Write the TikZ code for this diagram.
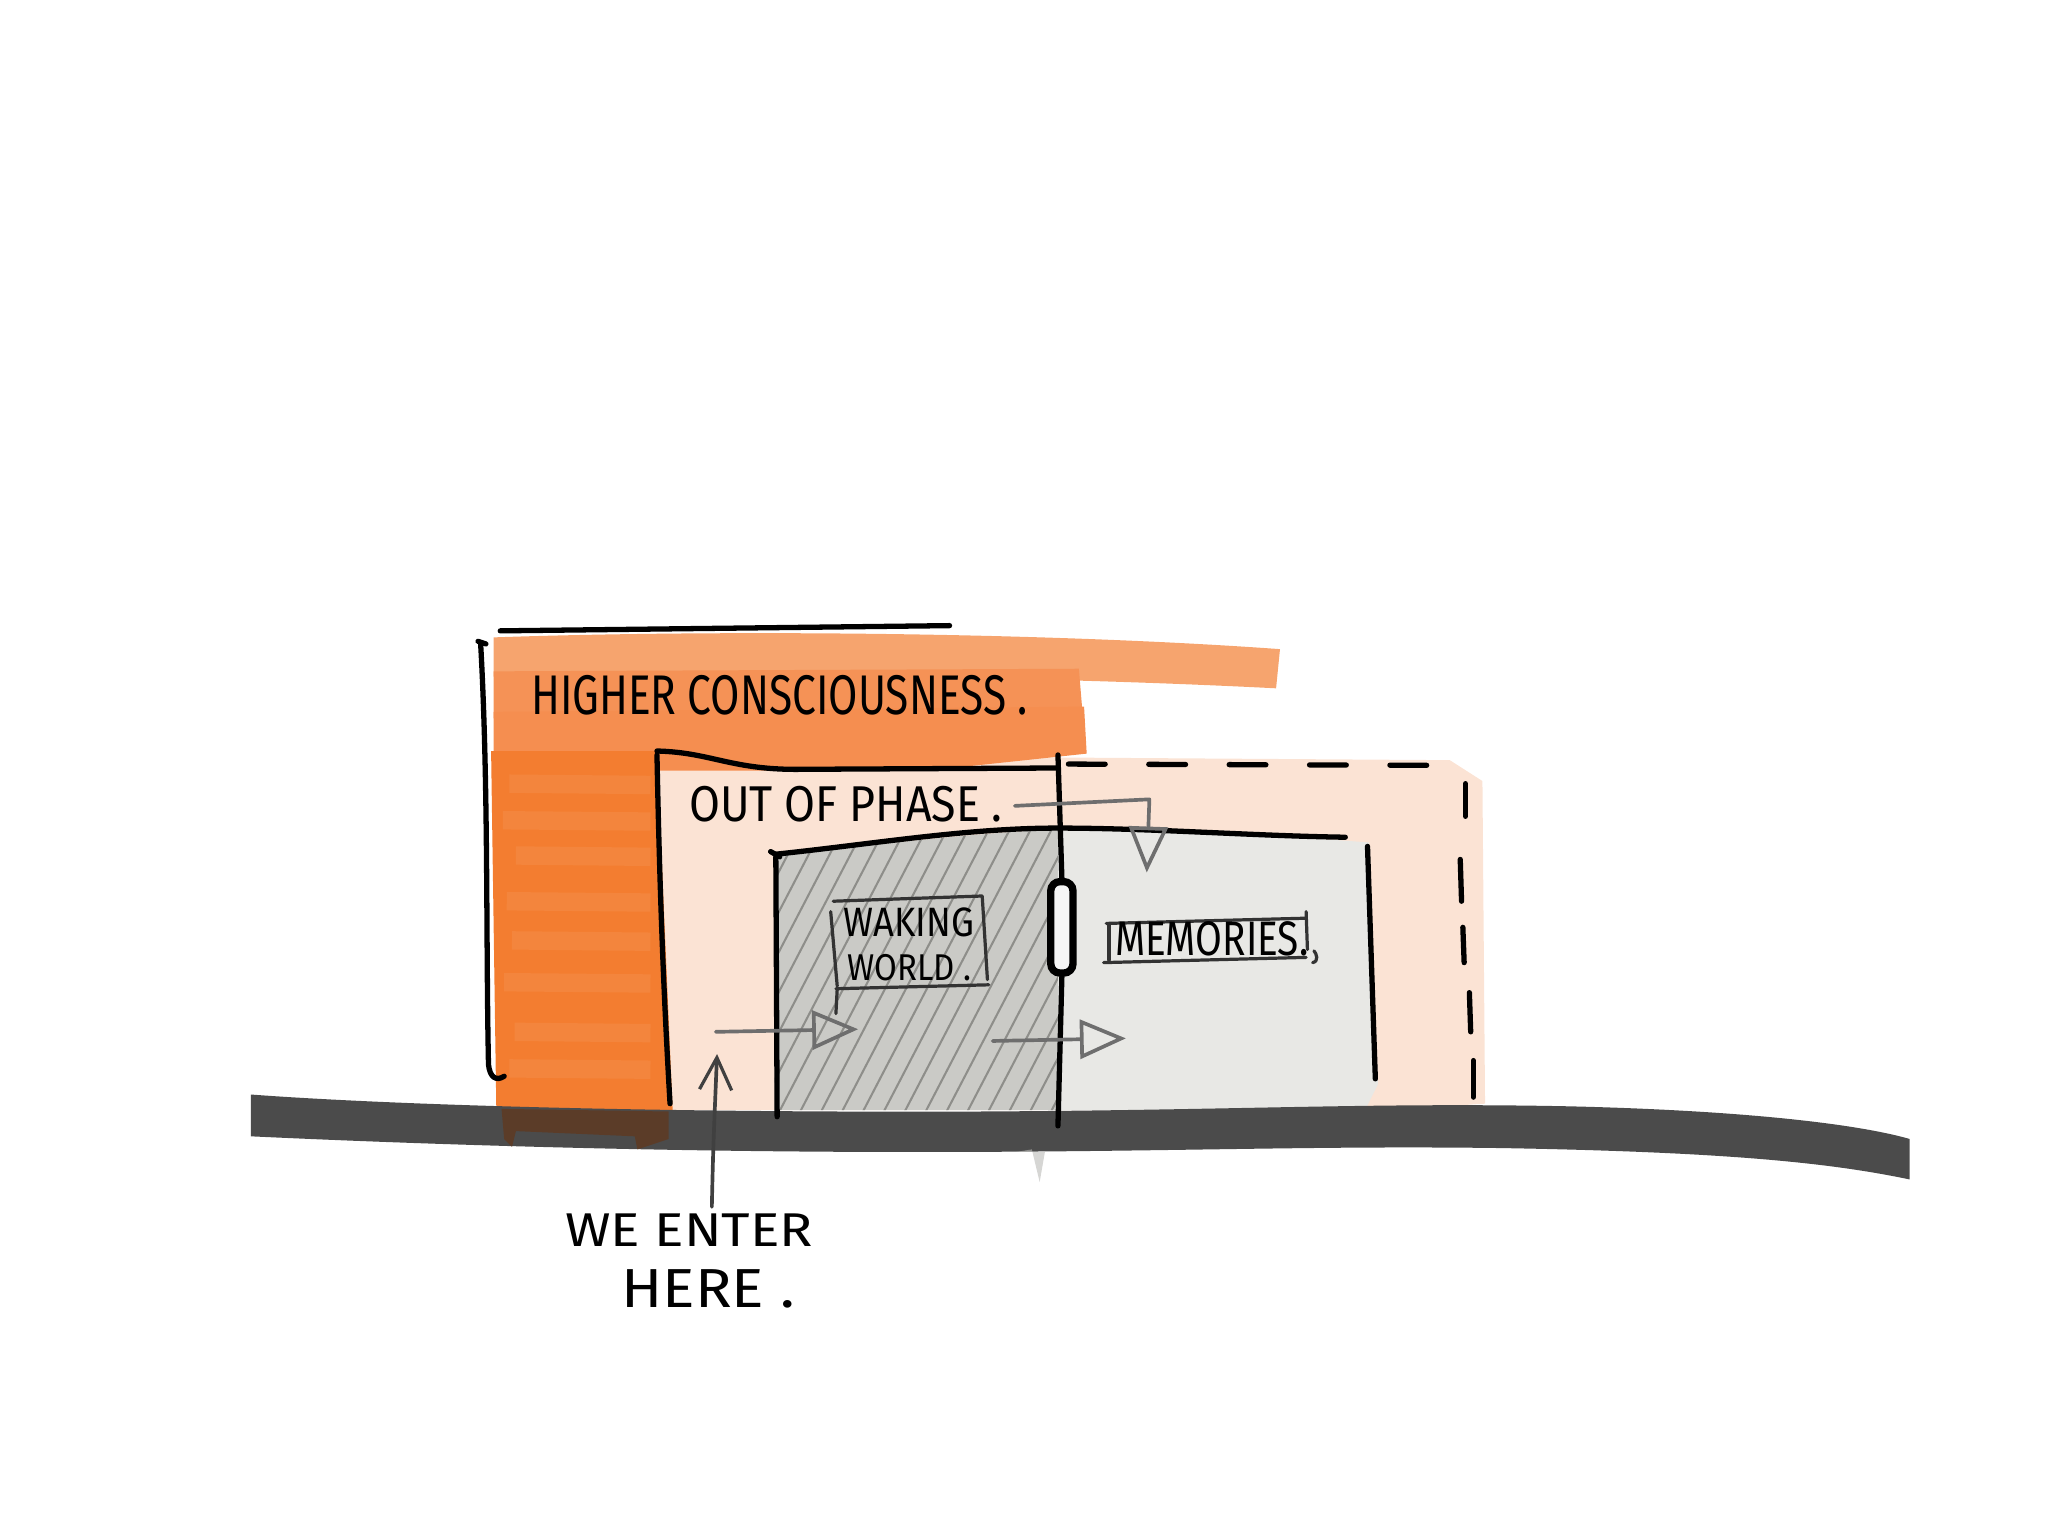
\documentclass[tikz,border=0pt]{standalone}
\usepackage{fontspec}
\setmainfont{Fira Sans}
\usepackage{graphicx}
\usetikzlibrary{arrows.meta}
\definecolor{orangeA}{HTML}{F37A2B}
\definecolor{orangeB}{HTML}{F59256}
\definecolor{orangeC}{HTML}{F6A46E}
\definecolor{peach}{HTML}{FBE3D4}
\definecolor{greyL}{HTML}{CACAC6}
\definecolor{greyR}{HTML}{E8E8E5}
\definecolor{barc}{HTML}{4B4B4B}
\definecolor{brownc}{HTML}{5E3A22}
\definecolor{pencilc}{HTML}{6E6E6E}
\definecolor{hatchc}{HTML}{8E8E8A}
\newlength\hpx
\setlength\hpx{0.01cm}
\newcommand{\hw}[3]{\resizebox{#1\hpx}{#2\hpx}{#3}}
\begin{document}
\begin{tikzpicture}[x=0.01cm,y=-0.01cm,
  ink/.style={line width=1.15pt, black, line cap=round, line join=round},
  thinink/.style={line width=0.7pt, black!80, line cap=round, line join=round},
  pencil/.style={line width=0.8pt, pencilc, line cap=round, line join=round},
  openhead/.style={-{Triangle[open,length=10pt,width=8.5pt,line width=0.8pt]}},
  barbhead/.style={-{Straight Barb[length=7pt,width=7pt,line width=0.7pt]}},
  streak/.style={orangeC, opacity=0.22, line width=4pt},
  hand/.style={inner sep=0pt, anchor=south west}]
\path[use as bounding box] (0,0) rectangle (1568,1176);
% peach fill (out of phase)
\fill[peach] (500,575) -- (815,580) -- (1110,582) -- (1135,598) -- (1137,845) -- (1060,850) -- (500,850) -- cycle;
% orange stripes
\fill[orangeC] (378,488) .. controls (550,482) and (800,484) .. (980,497) -- (977,527) .. controls (800,518) and (600,516) .. (378,518) -- cycle;
\fill[orangeB] (378,514) -- (826,512) -- (829,548) -- (378,550) -- cycle;
\fill[orangeB!85!orangeA] (378,545) -- (830,541) -- (832,577) -- (710,590) -- (500,590) -- (378,585) -- cycle;
\fill[orangeA!92!orangeC] (376,575) -- (503,575) -- (515,850) -- (380,850) -- cycle;
\foreach \yy/\xa in {600/390, 628/385, 655/395, 690/388, 720/392, 752/386, 790/394, 818/390} {
  \draw[streak] (\xa,\yy) -- (498,\yy+1);
}
% grey inner fills
\fill[greyL] (593,655) .. controls (660,648) and (740,638) .. (810,635) -- (810,850) -- (593,850) -- cycle;
\fill[greyR] (810,635) .. controls (900,634) and (980,640) .. (1048,645) -- (1055,830) -- (1045,850) -- (810,850) -- cycle;
% hatching
\begin{scope}
\clip (593,655) .. controls (660,648) and (740,638) .. (810,635) -- (810,850) -- (593,850) -- cycle;
\foreach \i in {0,...,30} {
  \draw[hatchc, line width=0.45pt] (480+\i*16,860) -- ++(125,-240);
}
\end{scope}
% ground bar
\fill[barc] (192,838) .. controls (300,846) and (500,852) .. (750,851)
  .. controls (950,850) and (1050,844) .. (1200,847)
  .. controls (1330,850) and (1420,860) .. (1462,872)
  -- (1462,903)
  .. controls (1400,890) and (1320,882) .. (1150,879)
  .. controls (1000,877) and (900,882) .. (700,882)
  .. controls (500,882) and (320,876) .. (192,870) -- cycle;
\fill[brownc, opacity=0.85] (384,849) -- (512,851) -- (512,872) -- (488,880) -- (486,870) -- (395,866) -- (392,878) -- (386,872) -- cycle;
\fill[greyR!80!black, opacity=0.6] (778,882) -- (800,882) -- (796,905) -- (790,880) -- cycle;
% orange box outline
\draw[ink] (383,483) -- (727,479);
\draw[ink] (366,491) -- (372,493);
\draw[ink] (368,493) .. controls (374,600) and (372,720) .. (374,815) .. controls (375,825) and (380,828) .. (386,824);
% out of phase box outline
\draw[ink] (503,575) .. controls (545,576) and (560,590) .. (615,589) -- (810,588);
\draw[ink] (503,578) .. controls (505,680) and (508,760) .. (513,845);
\draw[ink, dash pattern=on 8pt off 9.5pt] (818,585) -- (1108,586);
\draw[ink] (1122,600) -- (1122,625);
\draw[ink] (1118,658) -- (1119,690);
\draw[ink] (1120,710) -- (1121,737);
\draw[ink] (1125,760) -- (1126,790);
\draw[ink] (1128,812) -- (1128,840);
% inner box outline
\draw[ink] (590,652) -- (597,656);
\draw[ink] (594,656) -- (595,855);
\draw[ink] (594,654) .. controls (670,646) and (740,634) .. (810,634) .. controls (880,634) and (960,640) .. (1030,641);
\draw[ink] (1047,648) -- (1053,826);
% centre wall and door
\node[draw, line width=1.6pt, rounded corners=2pt, fill=white!96!black, minimum width=17\hpx, minimum height=70\hpx, inner sep=0pt] (door) at (813,710) {};
\draw[ink] (810,578) -- (door.north);
\draw[ink] (door.south) -- (810,862);
% waking world box
\draw[thinink] (638,690) -- (752,686) -- (756,750);
\draw[thinink] (636,698) -- (641,755);
\draw[thinink] (640,757) -- (757,754);
\draw[thinink] (641,757) -- (640,776);
% memories box
\draw[thinink] (847,707) -- (1000,703);
\draw[thinink] (845,737) -- (1000,733);
\draw[thinink] (849,708) -- (849,735);
\draw[thinink] (1000,698) -- (1001,727);
\draw[thinink] (1005,737) .. controls (1010,736) and (1008,730) .. (1006,728);
% texts
\node[hand] (hc) at (406,548) {\hw{380}{30}{HIGHER CONSCIOUSNESS .}};
\node[hand] (oop) at (527,630) {\hw{240}{27}{OUT OF PHASE .}};
\node[hand] (waking) at (645,718) {\hw{100}{22}{WAKING}};
\node[hand] (world) at (648,752) {\hw{95}{20}{WORLD .}};
\node[hand] (mem) at (853,733) {\hw{148}{26}{MEMORIES.}};
\node[hand] (enter) at (432,955) {\hw{190}{25}{WE ENTER}};
\node[hand] (here) at (475,1002) {\hw{133}{29}{HERE .}};
% arrows
\coordinate (oopstart) at (777,617);
\coordinate (oopturn) at (880,612);
\coordinate (ooptip) at (878,668);
\draw[pencil, openhead] (oopstart) -- (oopturn) -- (ooptip);
\coordinate (la0) at (548,790);
\coordinate (la1) at (657,788);
\draw[pencil, openhead] (la0) -- (la1);
\coordinate (ra0) at (760,797);
\coordinate (ra1) at (862,795);
\draw[pencil, openhead] (ra0) -- (ra1);
\coordinate (enterstart) at (545,924);
\coordinate (entertip) at (549,807);
\draw[pencil, black!75, barbhead] (enterstart) .. controls (546,880) .. (entertip);
\end{tikzpicture}
\end{document}
